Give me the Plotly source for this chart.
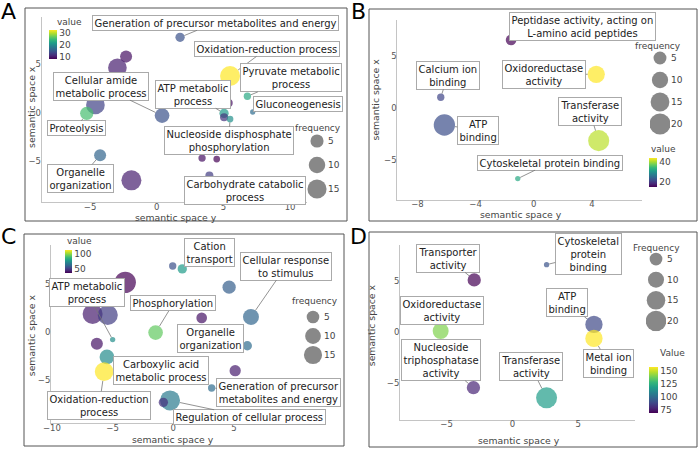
import numpy as np
import plotly.graph_objects as go

W, H = 700, 449
FONT = "DejaVu Sans"

# ---------------- Panel A ----------------
a_x = [1.75, -2.3, -2.95, 5.5, 6.8, 5.4, 7.2, -4.6, -5.25, 0.4, 5.05, 5.05, 5.5, -4.25, 3.4, 4.5, 3.95, -1.9]
a_y = [7.8, 5.8, 4.65, 3.8, 1.7, 1.0, 0.07, 0.8, -0.07, -0.3, -0.07, -0.48, -0.66, -4.4, -4.7, -4.8, -6.5, -7.0]
a_value = [14, 9, 10, 32, 22.4, 9, 16.4, 12.8, 24.8, 14, 21, 11.6, 20, 15.7, 9, 8, 12.3, 10]
a_freq = [1.55, 3.8, 14.1, 17, 0.62, 0.87, 0.3, 14.1, 5.25, 7.1, 1.55, 0.87, 0.45, 3.8, 0.62, 0.45, 0.87, 17]
a_labels = ["Generation of precursor metabolites and energy", "Oxidation-reduction process",
            "Pyruvate metabolic<br>process", "Gluconeogenesis", "Cellular amide<br>metabolic process",
            "ATP metabolic<br>process", "Proteolysis", "Nucleoside disphosphate<br>phosphorylation",
            "Organelle<br>organization", "Carbohydrate catabolic<br>process"]
a_label_idx = [0, 3, 4, 6, 9, 10, 8, 12, 13, 16]
a_xticks = [-5, 0, 5, 10]
a_yticks = [-5, 0, 5]
a_cticks = [10, 20, 30]
a_fbreaks = [5, 10, 15]

# ---------------- Panel B ----------------
b_x = [-1.56, 4.3, -6.4, -6.15, 4.47, -1.1]
b_y = [6.5, 3.2, 1.0, -1.66, -3.16, -6.8]
b_value = [15, 44, 21, 22, 41, 32.4]
b_freq = [2.6, 11.9, 0.63, 21, 20.5, 0.3]
b_labels = ["Peptidase activity, acting on<br>L-amino acid peptides", "Oxidoreductase<br>activity",
            "Calcium ion<br>binding", "ATP<br>binding", "Transferase<br>activity",
            "Cytoskeletal protein binding"]
b_label_idx = [0, 1, 2, 3, 4, 5]
b_xticks = [-8, -4, 0, 4]
b_yticks = [-5, 0, 5]
b_cticks = [20, 40]
b_fbreaks = [5, 10, 15, 20]

# ---------------- Panel C ----------------
c_x = [-0.05, 0.74, -3.96, 4.6, -6.65, -5.4, -5.0, 2.34, 6.4, -1.46, 6.1, -6.3, -5.47, -5.7, 5.1, 3.16, -0.27, -0.82]
c_y = [6.9, 6.6, 5.2, 4.7, 1.9, 1.8, -0.76, 1.5, 1.6, -0.03, -1.4, -1.2, -2.57, -4.1, -4.0, -5.8, -7.1, -7.3]
c_value = [56, 79, 37, 60, 43, 51, 75, 41, 62, 95, 64, 41, 74, 114, 43, 64, 69, 48]
c_freq = [0.66, 1.74, 23, 5.98, 19.5, 19.5, 0.3, 2.86, 10.4, 8.1, 1.74, 4.3, 8.1, 16.1, 3.5, 0.66, 19.5, 1.74]
c_labels = ["Cation<br>transport", "Cellular response<br>to stimulus", "ATP metabolic<br>process",
            "Phosphorylation", "Organelle<br>organization", "Carboxylic acid<br>metabolic process",
            "Oxidation-reduction<br>process", "Generation of precursor<br>metabolites and energy",
            "Regulation of cellular process"]
c_label_idx = [1, 8, 6, 9, 10, 12, 13, 15, 16]
c_xticks = [-10, -5, 0, 5]
c_yticks = [-5, 0, 5]
c_cticks = [50, 100]
c_fbreaks = [5, 10, 15]

# ---------------- Panel D ----------------
d_x = [2.6, -2.9, 6.2, -5.45, 6.2, -2.96, 2.6]
d_y = [6.6, 5.1, 0.72, 0.07, -0.66, -5.5, -6.5]
d_value = [92, 70, 89, 140, 157, 79, 118]
d_freq = [0.3, 5.7, 12.4, 9.9, 12.4, 5.7, 21]
d_labels = ["Cytoskeletal<br>protein<br>binding", "Transporter<br>activity", "ATP<br>binding",
            "Oxidoreductase<br>activity", "Metal ion<br>binding", "Nucleoside<br>triphosphatase<br>activity",
            "Transferase<br>activity"]
d_label_idx = [0, 1, 2, 3, 4, 5, 6]
d_xticks = [-5, 0, 5]
d_yticks = [-5, 0, 5]
d_cticks = [75, 100, 125, 150]
d_fbreaks = [5, 10, 15, 20]

x_title = "semantic space y"
y_title = "semantic space x"

# ---------------- layout helpers (pixel geometry) ----------------
def fx(p):
    return p / W

def fy(p):
    return 1 - p / H

panels = [
    dict(letter="A", x=a_x, y=a_y, v=a_value, f=a_freq, labels=a_labels, lidx=a_label_idx,
         lpos=[(4.4, 9.3), (8.25, 6.6), (10.1, 3.6), (10.6, 0.9), (-4.2, 2.75), (2.7, 1.9),
               (-6.05, -1.6), (5.4, -2.9), (-5.75, -6.8), (6.6, -8.0)],
         xt=a_xticks, yt=a_yticks, ct=a_cticks, fb=a_fbreaks, ctitle="value", ftitle="frequency",
         box=(25, 8, 347, 221), plot=(41.7, 16.7, 306.7, 202.3), xr=(-8.63, 11.25), yr=(-9.27, 9.93),
         dmin=5.3, dmax=20.0, cbar=(49, 30, 59.3, 7.5), ctpos=(55, 21.7),
         leg=(307, 327, 129, 201), ftpos=(317.5, 128), letpos=(8, 11),
         xtpos=(176.3, 217.5), ytpos=(31.2, 106.7)),
    dict(letter="B", x=b_x, y=b_y, v=b_value, f=b_freq, labels=b_labels, lidx=b_label_idx,
         lpos=[(3.37, 7.76), (0.73, 3.23), (-5.9, 3.1), (-3.85, -2.14), (3.85, -0.38), (1.15, -5.27)],
         xt=b_xticks, yt=b_yticks, ct=b_cticks, fb=b_fbreaks, ctitle="value", ftitle="frequency",
         box=(369, 9, 697, 221), plot=(397.3, 20, 641.7, 200), xr=(-9.39, 7.43), yr=(-8.85, 8.41),
         dmin=5.3, dmax=21.3, cbar=(649, 158.3, 187.3, 8), ctpos=(649, 149),
         leg=(650, 670, 47, 135), ftpos=(657.5, 45.7), letpos=(358, 11),
         xtpos=(520.5, 215), ytpos=(374.5, 100)),
    dict(letter="C", x=c_x, y=c_y, v=c_value, f=c_freq, labels=c_labels, lidx=c_label_idx,
         lpos=[(2.97, 8.3), (9.3, 6.9), (-7.1, 4.1), (0.0, 3.0), (3.1, -0.6), (-1.0, -4.0),
               (-6.1, -7.6), (8.7, -6.3), (6.3, -8.85)],
         xt=c_xticks, yt=c_yticks, ct=c_cticks, fb=c_fbreaks, ctitle="value", ftitle="frequency",
         box=(24, 234, 344, 446), plot=(51, 245, 293.3, 423.3), xr=(-10.08, 9.89), yr=(-9.48, 9.09),
         dmin=5.3, dmax=21.3, cbar=(64.5, 250, 273.3, 7), ctpos=(65, 241),
         leg=(303, 323, 307.5, 364.5), ftpos=(315, 301), letpos=(8, 236),
         xtpos=(173.3, 439.5), ytpos=(31.2, 335)),
    dict(letter="D", x=d_x, y=d_y, v=d_value, f=d_freq, labels=d_labels, lidx=d_label_idx,
         lpos=[(5.77, 7.6), (-4.9, 7.2), (4.15, 2.85), (-5.37, 2.07), (7.3, -3.1), (-5.44, -2.8),
               (1.42, -3.44)],
         xt=d_xticks, yt=d_yticks, ct=d_cticks, fb=d_fbreaks, ctitle="Value", ftitle="Frequency",
         box=(369, 232, 697, 447), plot=(400, 245, 635, 420), xr=(-8.54, 9.32), yr=(-8.68, 8.53),
         dmin=5.3, dmax=21.0, cbar=(649, 366.7, 412.5, 9), ctpos=(658, 353),
         leg=(646, 666, 248.7, 331.3), ftpos=(656, 247.7), letpos=(358, 237),
         xtpos=(519, 440.7), ytpos=(371.2, 325)),
]


def size_map(f, freqs, dmin, dmax):
    fmin, fmax = min(freqs), max(freqs)
    s = np.clip((np.asarray(f, dtype=float) - fmin) / (fmax - fmin), 0, 1)
    return dmin + (dmax - dmin) * np.sqrt(s)


fig = go.Figure()
layout = dict(width=W, height=H, margin=dict(l=0, r=0, t=0, b=0), paper_bgcolor="white",
              plot_bgcolor="white", showlegend=False, font=dict(family=FONT, color="#333"))
annotations = []
shapes = []

for k, p in enumerate(panels):
    n = k + 1
    sfx = "" if n == 1 else str(n)
    xa, ya = "x" + sfx, "y" + sfx
    ca = "coloraxis" + sfx
    sizes = size_map(p["f"], p["f"], p["dmin"], p["dmax"])
    fig.add_trace(go.Scatter(x=p["x"], y=p["y"], mode="markers", xaxis=xa, yaxis=ya,
                             marker=dict(size=sizes, color=p["v"], coloraxis=ca, opacity=0.7,
                                         line=dict(width=0)),
                             hoverinfo="skip"))
    x0, y0, x1, y1 = p["plot"]
    axstyle = dict(showgrid=False, zeroline=False, showline=True, linecolor="#c4c4c4", linewidth=1,
                   ticks="", automargin=False, ticklabelstandoff=-4,
                   tickfont=dict(size=8.5, color="#555"))
    layout["xaxis" + sfx] = dict(axstyle, domain=[fx(x0), fx(x1)], range=list(p["xr"]), anchor=ya,
                                 tickvals=p["xt"])
    layout["yaxis" + sfx] = dict(axstyle, domain=[fy(y1), fy(y0)], range=list(p["yr"]), anchor=xa,
                                 tickvals=p["yt"], ticklabelstandoff=-2)
    annotations.append(dict(text=x_title, x=fx(p["xtpos"][0]), y=fy(p["xtpos"][1]), xref="paper",
                            yref="paper", xanchor="center", yanchor="middle", showarrow=False,
                            font=dict(size=9.3, color="#444")))
    annotations.append(dict(text=y_title, x=fx(p["ytpos"][0]), y=fy(p["ytpos"][1]), xref="paper",
                            yref="paper", xanchor="center", yanchor="middle", showarrow=False,
                            textangle=-90, font=dict(size=9.3, color="#444")))
    cx, ct0, ct1, th = p["cbar"]
    layout[ca] = dict(colorscale="Viridis", cmin=min(p["v"]), cmax=max(p["v"]),
                      colorbar=dict(x=fx(cx), xanchor="left", y=fy(ct0), yanchor="top",
                                    len=ct1 - ct0, lenmode="pixels", thickness=th, xpad=0, ypad=0,
                                    outlinewidth=0, ticks="", tickvals=p["ct"],
                                    tickfont=dict(size=9, color="#444")))
    annotations.append(dict(text=p["ctitle"], x=fx(p["ctpos"][0]), y=fy(p["ctpos"][1]), xref="paper",
                            yref="paper", xanchor="left", yanchor="middle", showarrow=False,
                            font=dict(size=9, color="#444")))
    # size legend
    ln = 5 + k
    lxa, lya = "x" + str(ln), "y" + str(ln)
    lx0, lx1, ly0, ly1 = p["leg"]
    cats = [str(b) for b in p["fb"]]
    fig.add_trace(go.Scatter(x=[0] * len(cats), y=cats, mode="markers", xaxis=lxa, yaxis=lya,
                             marker=dict(size=size_map(p["fb"], p["f"], p["dmin"], p["dmax"]),
                                         color="#555555", line=dict(width=0)),
                             hoverinfo="skip"))
    layout["xaxis" + str(ln)] = dict(domain=[fx(lx0), fx(lx1)], range=[-1, 1], visible=False,
                                     anchor=lya)
    layout["yaxis" + str(ln)] = dict(domain=[fy(ly1), fy(ly0)], type="category", categoryarray=cats,
                                     range=[len(cats) - 0.5, -0.5], side="right", anchor=lxa,
                                     showgrid=False, zeroline=False, showline=False, ticks="",
                                     tickfont=dict(size=9, color="#444"))
    annotations.append(dict(text=p["ftitle"], x=fx(p["ftpos"][0]), y=fy(p["ftpos"][1]), xref="paper",
                            yref="paper", xanchor="center", yanchor="middle", showarrow=False,
                            font=dict(size=9, color="#444")))
    # text labels
    for t, i, (lx, ly) in zip(p["labels"], p["lidx"], p["lpos"]):
        annotations.append(dict(x=p["x"][i], y=p["y"][i], xref=xa, yref=ya, ax=lx, ay=ly,
                                axref=xa, ayref=ya, text=t, align="center", showarrow=True,
                                arrowhead=0, arrowwidth=0.8, arrowcolor="#777",
                                standoff=float(sizes[i]) / 2, bgcolor="white", bordercolor="#aaaaaa",
                                borderwidth=1, borderpad=1.5,
                                font=dict(size=10, color="#222", family=FONT)))
    # panel border + letter
    bx0, by0, bx1, by1 = p["box"]
    shapes.append(dict(type="rect", xref="paper", yref="paper", x0=fx(bx0), x1=fx(bx1),
                       y0=fy(by1), y1=fy(by0), line=dict(color="#555", width=1)))
    annotations.append(dict(text=p["letter"], x=fx(p["letpos"][0]), y=fy(p["letpos"][1]),
                            xref="paper", yref="paper", xanchor="center", yanchor="middle",
                            showarrow=False, font=dict(size=22, color="black")))

layout["annotations"] = annotations
layout["shapes"] = shapes
fig.update_layout(**layout)
fig.write_html("out.html", config={"displayModeBar": False},
               post_script="document.body.style.margin='0px';")
